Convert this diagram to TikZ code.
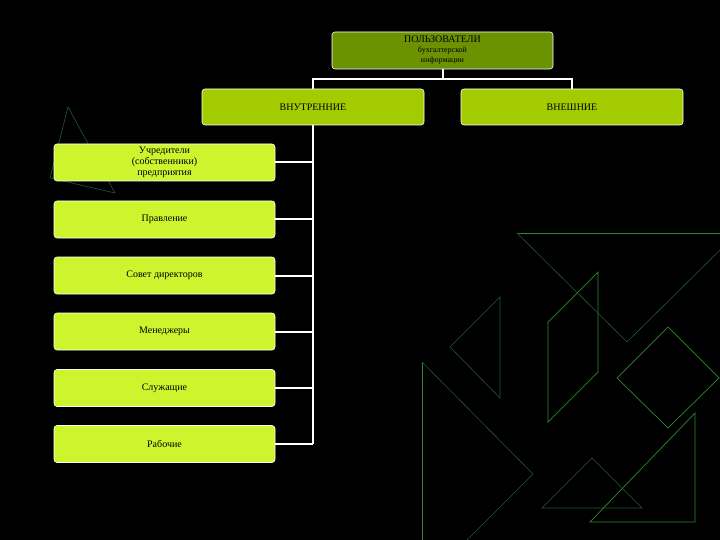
\documentclass[tikz,border=0pt]{standalone}
\usepackage{fontspec}
\setmainfont{Liberation Serif}
\begin{document}
\begin{tikzpicture}[x=1pt,y=-1pt,
  box/.style={draw=white,line width=0.6pt,rounded corners=3pt,inner sep=0pt,align=center,font=\fontsize{10}{11}\selectfont,text=black},
  lbox/.style={box,fill=lbox,minimum width=221pt,minimum height=37pt},
  mbox/.style={box,fill=mbox,minimum width=222pt,minimum height=36pt},
  conn/.style={draw=white,line width=2pt},
  deco/.style={draw=deco,line width=0.7pt},
  dim/.style={draw=decod,line width=0.6pt}]
\definecolor{lbox}{HTML}{CCF52E}
\definecolor{mbox}{HTML}{A2CC00}
\definecolor{tbox}{HTML}{6B9200}
\definecolor{deco}{HTML}{2E8B2E}
\definecolor{decod}{HTML}{1E5A3A}
\fill[black] (0,0) rectangle (720,540);
\useasboundingbox (0,0) rectangle (720,540);
% decorations
\draw[dim] (68,107) -- (50,178) -- (115,193) -- cycle;
\draw[deco] (517,233) -- (720,233);
\draw[dim] (517,233) -- (627,342) -- (720,250);
\draw[deco] (548,322) -- (598,272) -- (598,372) -- (548,422) -- cycle;
\draw[dim] (500,297) -- (450,347) -- (500,398) -- cycle;
\draw[deco] (668,327) -- (719,378) -- (668,428) -- (617,378) -- cycle;
\draw[deco] (422,540) -- (422,362);
\draw[dim] (422,362) -- (533,474) -- (467,540);
\draw[dim] (592,458) -- (542,508) -- (642,508) -- cycle;
\draw[deco] (695,413) -- (695,522) -- (590,522) -- cycle;
% boxes
\node[box,fill=tbox,minimum width=221pt,minimum height=37pt] (top) at (442.5,50.5) {ПОЛЬЗОВАТЕЛИ\\[-1pt]{\fontsize{8}{9}\selectfont бухгалтерской}\\[-1pt]{\fontsize{8}{9}\selectfont информации}};
\node[mbox] (in) at (313,107) {ВНУТРЕННИЕ};
\node[mbox] (out) at (572,107) {ВНЕШНИЕ};
\node[lbox] (a) at (164.5,162.5) {Учредители\\(собственники)\\предприятия};
\node[lbox] (b) at (164.5,219.5) {Правление};
\node[lbox] (c) at (164.5,275.5) {Совет директоров};
\node[lbox] (d) at (164.5,331.5) {Менеджеры};
\node[lbox] (e) at (164.5,388) {Служащие};
\node[lbox] (f) at (164.5,444) {Рабочие};
% connectors
\coordinate (j) at (442.5,79);
\draw[conn] (top.south) -- (j);
\draw[conn] (in.north) |- (j) -| (out.north);
\coordinate (t) at (313,444);
\draw[conn] (in.south) -- (t);
\foreach \n in {a,b,c,d,e,f} \draw[conn] (\n.east) -- (\n.east -| t);
\end{tikzpicture}
\end{document}
